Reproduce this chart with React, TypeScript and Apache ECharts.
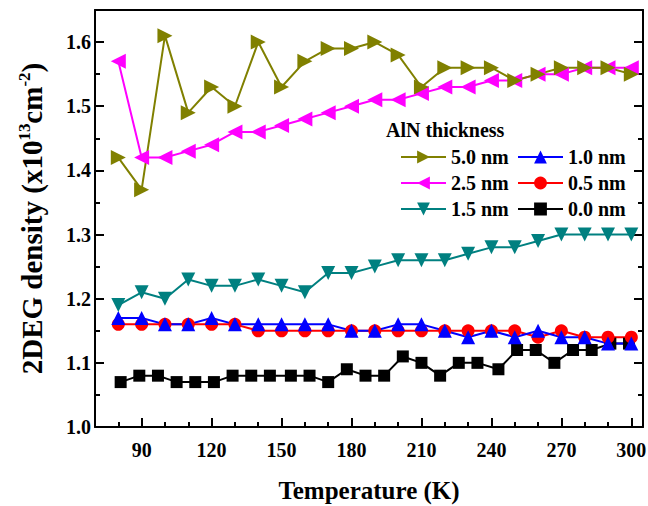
import { useEffect, useRef } from 'react';
import * as echarts from 'echarts';

// Temperatures (K)
const temperatures = [80, 90, 100, 110, 120, 130, 140, 150, 160, 170, 180, 190, 200, 210, 220, 230, 240, 250, 260, 270, 280, 290, 300];
const temperatures00 = [81, 89, 97, 105, 113, 121, 129, 137, 145, 154, 162, 170, 178, 186, 194, 202, 210, 218, 226, 234, 243, 251, 259, 267, 275, 283, 291, 299];

// 2DEG density (x10^13 cm^-2)
const n50 = [1.42, 1.37, 1.61, 1.49, 1.53, 1.50, 1.60, 1.53, 1.57, 1.59, 1.59, 1.60, 1.58, 1.53, 1.56, 1.56, 1.56, 1.54, 1.55, 1.56, 1.56, 1.56, 1.55];
const n25 = [1.57, 1.42, 1.42, 1.43, 1.44, 1.46, 1.46, 1.47, 1.48, 1.49, 1.50, 1.51, 1.51, 1.52, 1.53, 1.53, 1.54, 1.54, 1.55, 1.55, 1.56, 1.56, 1.56];
const n15 = [1.19, 1.21, 1.20, 1.23, 1.22, 1.22, 1.23, 1.22, 1.21, 1.24, 1.24, 1.25, 1.26, 1.26, 1.26, 1.27, 1.28, 1.28, 1.29, 1.30, 1.30, 1.30, 1.30];
const n10 = [1.17, 1.17, 1.16, 1.16, 1.17, 1.16, 1.16, 1.16, 1.16, 1.16, 1.15, 1.15, 1.16, 1.16, 1.15, 1.14, 1.15, 1.14, 1.15, 1.14, 1.14, 1.13, 1.13];
const n05 = [1.16, 1.16, 1.16, 1.16, 1.16, 1.16, 1.15, 1.15, 1.15, 1.15, 1.15, 1.15, 1.15, 1.15, 1.15, 1.15, 1.15, 1.15, 1.14, 1.15, 1.14, 1.14, 1.14];
const n00 = [1.07, 1.08, 1.08, 1.07, 1.07, 1.07, 1.08, 1.08, 1.08, 1.08, 1.08, 1.07, 1.09, 1.08, 1.08, 1.11, 1.10, 1.08, 1.10, 1.10, 1.09, 1.12, 1.12, 1.10, 1.12, 1.12, 1.13, 1.13];

// Ticks
const xMajorTicks = [90, 120, 150, 180, 210, 240, 270, 300];
const xMinorTicks = [80, 100, 110, 130, 140, 160, 170, 190, 200, 220, 230, 250, 260, 280, 290];
const yMajorTicks = [1.0, 1.1, 1.2, 1.3, 1.4, 1.5, 1.6];
const yMinorTicks = [1.05, 1.15, 1.25, 1.35, 1.45, 1.55];

const FONT = '"Liberation Serif", "Times New Roman", serif';

const pairs = (xs: number[], ys: number[]) => xs.map((x, i) => [x, ys[i]]);

export default function App() {
  const ref = useRef<HTMLDivElement>(null);
  useEffect(() => {
    if (!ref.current) return;
    const chart = echarts.init(ref.current, undefined, { renderer: 'svg' });
    const black = '#000000';
    const tickLine = { color: black, width: 2 };
    const xBase = { type: 'value', min: 70, max: 305, splitLine: { show: false } };
    const yBase = { type: 'value', min: 1.0, max: 1.65, splitLine: { show: false } };
    const mk = (name: string, xs: number[], ys: number[], color: string, symbol: string, size: number, rot: number) => ({
      type: 'line',
      name,
      data: pairs(xs, ys),
      symbol,
      symbolSize: size,
      symbolRotate: rot,
      showAllSymbol: true,
      itemStyle: { color },
      lineStyle: { color, width: 2 },
      emphasis: { disabled: true },
    });
    const legendText = { color: black, fontFamily: FONT, fontWeight: 'bold', fontSize: 20, lineHeight: 19 };
    chart.setOption({
      animation: false,
      backgroundColor: '#ffffff',
      grid: { left: 95, right: 5, top: 10, bottom: 79, containLabel: false, outerBoundsMode: 'none' },
      xAxis: [
        {
          ...xBase,
          position: 'bottom',
          axisLine: { show: true, onZero: false, lineStyle: { color: black, width: 2 } },
          axisTick: { show: true, inside: true, length: 9, lineStyle: tickLine, customValues: xMajorTicks },
          axisLabel: {
            customValues: xMajorTicks,
            margin: 13,
            color: black,
            fontFamily: FONT,
            fontWeight: 'bold',
            fontSize: 20,
            formatter: (v: number) => String(v),
          },
          name: 'Temperature (K)',
          nameLocation: 'middle',
          nameGap: 51,
          nameTextStyle: { color: black, fontFamily: FONT, fontWeight: 'bold', fontSize: 25 },
        },
        {
          ...xBase,
          position: 'bottom',
          axisLine: { show: false, onZero: false },
          axisTick: { show: true, inside: true, length: 5, lineStyle: tickLine, customValues: xMinorTicks },
          axisLabel: { show: false },
        },
        {
          ...xBase,
          position: 'top',
          axisLine: { show: true, onZero: false, lineStyle: { color: black, width: 2 } },
          axisTick: { show: false },
          axisLabel: { show: false },
        },
      ],
      yAxis: [
        {
          ...yBase,
          position: 'left',
          axisLine: { show: true, onZero: false, lineStyle: { color: black, width: 2 } },
          axisTick: { show: true, inside: true, length: 9, lineStyle: tickLine, customValues: yMajorTicks },
          axisLabel: {
            customValues: yMajorTicks,
            margin: 4,
            color: black,
            fontFamily: FONT,
            fontWeight: 'bold',
            fontSize: 20,
            formatter: (v: number) => v.toFixed(1),
          },
          name: '{b|2DEG density (x10}{s|13}{b|cm}{s|-2}{b|)}',
          nameLocation: 'middle',
          nameRotate: 90,
          nameGap: 47,
          nameTextStyle: {
            color: black,
            rich: {
              b: { fontFamily: FONT, fontWeight: 'bold', fontSize: 29, lineHeight: 32, color: black },
              s: { fontFamily: FONT, fontWeight: 'bold', fontSize: 17, lineHeight: 17, verticalAlign: 'top', color: black },
            },
          },
        },
        {
          ...yBase,
          position: 'left',
          axisLine: { show: false, onZero: false },
          axisTick: { show: true, inside: true, length: 5, lineStyle: tickLine, customValues: yMinorTicks },
          axisLabel: { show: false },
        },
        {
          ...yBase,
          position: 'right',
          axisLine: { show: true, onZero: false, lineStyle: { color: black, width: 2 } },
          axisTick: { show: true, inside: true, length: 9, lineStyle: tickLine, customValues: yMajorTicks },
          axisLabel: { show: false },
        },
        {
          ...yBase,
          position: 'right',
          axisLine: { show: false, onZero: false },
          axisTick: { show: true, inside: true, length: 5, lineStyle: tickLine, customValues: yMinorTicks },
          axisLabel: { show: false },
        },
      ],
      legend: [
        {
          orient: 'vertical',
          left: 400,
          top: 147,
          padding: 0,
          itemWidth: 45,
          itemHeight: 16,
          itemGap: 6,
          data: ['5.0 nm', '2.5 nm', '1.5 nm'],
          textStyle: legendText,
        },
        {
          orient: 'vertical',
          left: 517,
          top: 147,
          padding: 0,
          itemWidth: 45,
          itemHeight: 16,
          itemGap: 6,
          data: ['1.0 nm', '0.5 nm', '0.0 nm'],
          textStyle: legendText,
        },
      ],
      graphic: [
        {
          type: 'text',
          left: 386,
          top: 120,
          style: { text: 'AlN thickness', font: `bold 20px ${FONT}`, fill: black },
        },
      ],
      series: [
        mk('0.0 nm', temperatures00, n00, '#000000', 'rect', 12, 0),
        mk('0.5 nm', temperatures, n05, '#FF0000', 'circle', 13, 0),
        mk('1.0 nm', temperatures, n10, '#0000FF', 'triangle', 14, 0),
        mk('1.5 nm', temperatures, n15, '#008080', 'triangle', 14, 180),
        mk('2.5 nm', temperatures, n25, '#FF00FF', 'triangle', 15, 90),
        mk('5.0 nm', temperatures, n50, '#808000', 'triangle', 15, -90),
      ],
    });
    return () => chart.dispose();
  }, []);
  return <div ref={ref} style={{ position: 'fixed', left: 0, top: 0, width: 648, height: 506, background: '#fff' }} />;
}
